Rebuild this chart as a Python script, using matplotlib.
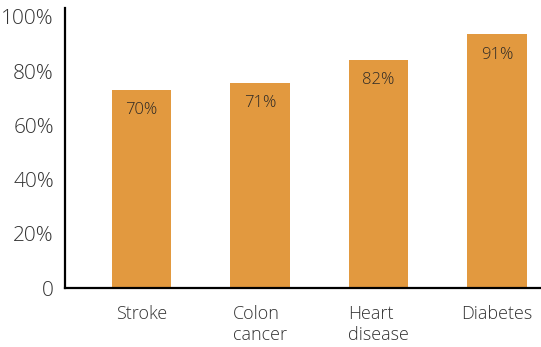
import matplotlib.pyplot as plt
import numpy as np

plt.rcParams["font.family"] = ["Open Sans", "DejaVu Sans"]
plt.rcParams["font.weight"] = "light"

categories = ["Stroke", "Colon\ncancer", "Heart\ndisease", "Diabetes"]
bar_heights = [73.2, 75.8, 84.2, 93.7]
bar_labels = ["70%", "71%", "82%", "91%"]
y_ticks = [0, 20, 40, 60, 80, 100]
y_tick_labels = ["0", "20%", "40%", "60%", "80%", "100%"]

W, H = 541, 347
fig = plt.figure(figsize=(W / 100, H / 100), dpi=100)
ax = fig.add_axes([65 / W, (H - 288) / H, 1 - 65 / W, (288 - 8) / H])

x = np.arange(len(categories))
bars = ax.bar(x, bar_heights, width=0.5, color="#E2993F")

# value labels sit inside the top of each bar
for bar, lab in zip(bars, bar_labels):
    ax.text(bar.get_x() + bar.get_width() / 2, bar.get_height() - 7.6, lab,
            ha="center", va="center", fontsize=12, color="#2e2a26")

ax.set_xlim(-0.645, 3.37)
ax.set_ylim(0, 103.3)
ax.set_xticks(x)
ax.set_xticklabels(categories, fontsize=13, color="#333333",
                   multialignment="left", linespacing=1.25)
ax.set_yticks(y_ticks)
ax.set_yticklabels(y_tick_labels, fontsize=15, color="#333333")
ax.tick_params(axis="both", length=0)
ax.tick_params(axis="y", pad=8)
ax.tick_params(axis="x", pad=12)

ax.spines[["top", "right"]].set_visible(False)
ax.spines["left"].set_linewidth(1.6)
ax.spines["bottom"].set_linewidth(1.6)
ax.spines["left"].set_color("black")
ax.spines["bottom"].set_color("black")

fig.savefig("out.png", dpi=100)
